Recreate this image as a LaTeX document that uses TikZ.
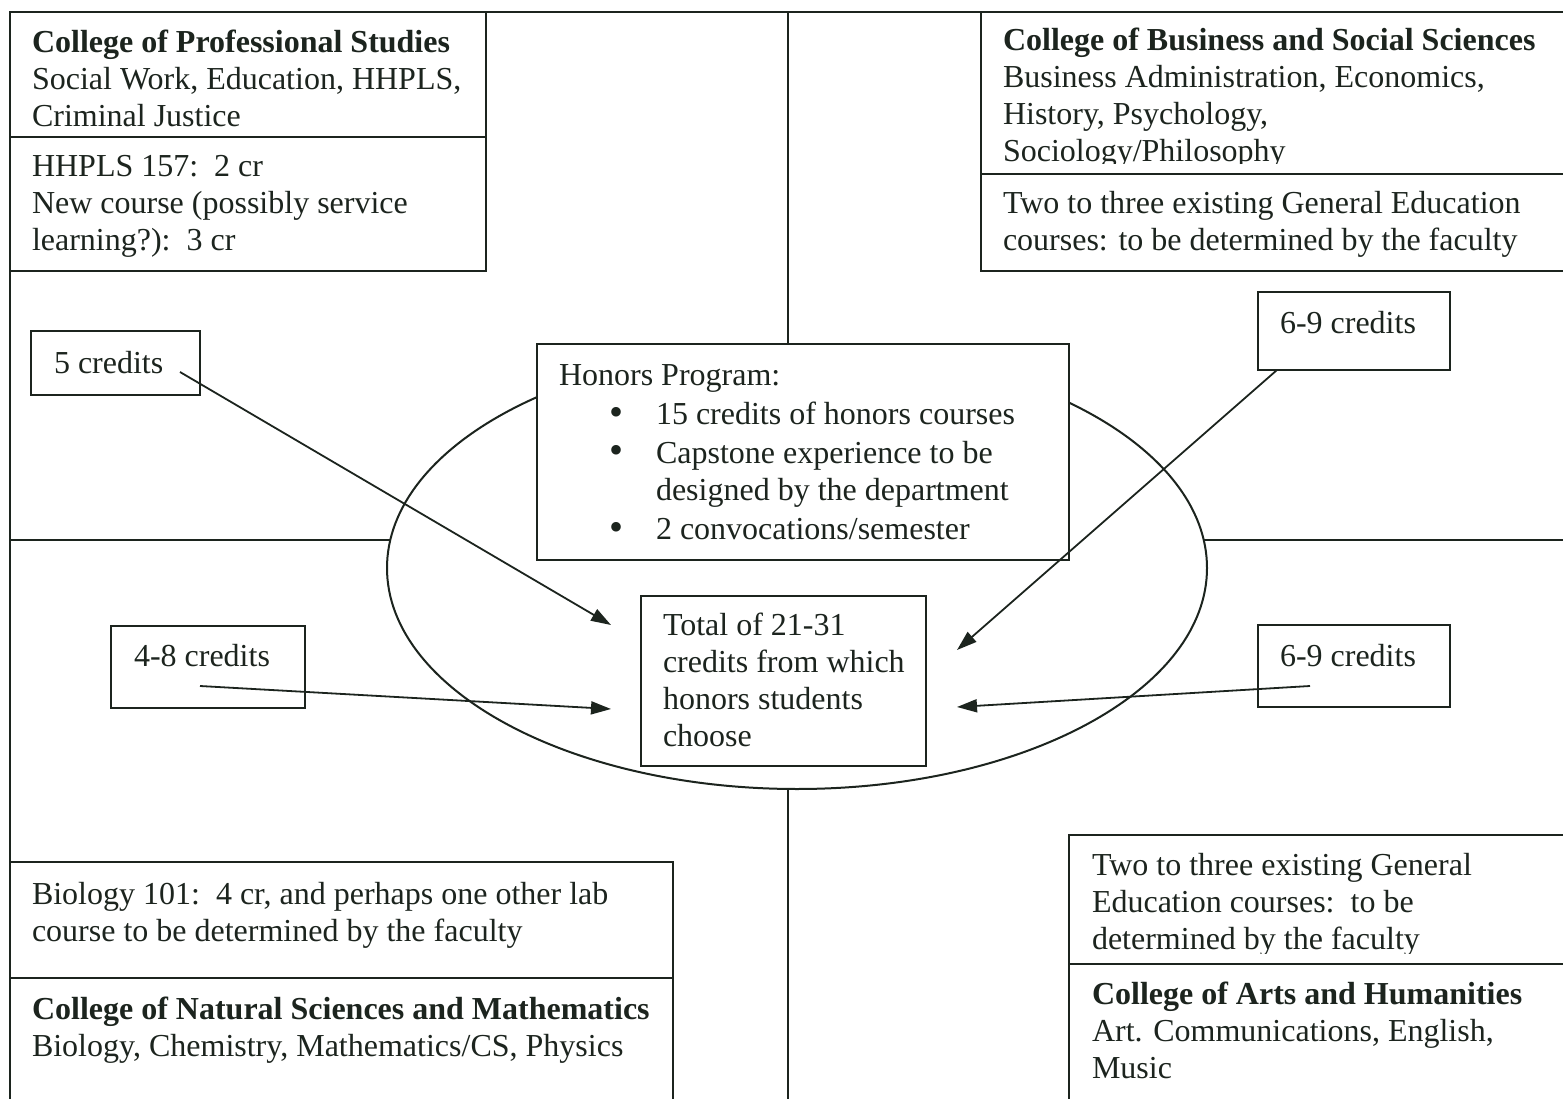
\documentclass[tikz,border=0pt]{standalone}
\usepackage{fontspec}
\setmainfont{Liberation Serif}
\usetikzlibrary{arrows.meta,shapes.geometric}
\definecolor{ink}{RGB}{28,36,30}
\begin{document}
\begin{tikzpicture}[x=1pt,y=-1pt,line width=2pt,color=ink,
  box/.style={draw,fill=white,anchor=north west,inner sep=0pt,outer sep=0pt},
  txt/.style={anchor=base west,align=left,inner sep=0pt,font=\fontsize{32}{37}\selectfont},
  bul/.style={anchor=base west,inner sep=0pt,font=\fontsize{40}{37}\selectfont},
  arr/.style={-{Triangle[length=20pt,width=13pt]},line width=1.8pt}]
\clip (0,0) rectangle (1563,1099);
% frame lines
\draw (10,1110) -- (10,12) -- (1570,12);
\draw (788,12) -- (788,1110);
\draw (10,540) -- (1570,540);
% ellipse
\node[draw,fill=white,ellipse,inner sep=0pt,minimum width=820pt,minimum height=442pt] (ell) at (797,568) {};
% college boxes
\node[box,minimum width=476pt,minimum height=259pt] (tl) at (10,12) {};
\draw (10,137) -- (486,137);
\node[box,minimum width=600pt,minimum height=259pt] (tr) at (981,12) {};
\draw (981,174) -- (1570,174);
\node[box,minimum width=663pt,minimum height=260pt] (bl) at (10,862) {};
\draw (10,978) -- (673,978);
\node[box,minimum width=520pt,minimum height=290pt] (br) at (1069,835) {};
\draw (1069,964) -- (1570,964);
% centre boxes
\node[box,minimum width=532pt,minimum height=216pt] (hon) at (537,344) {};
\node[box,minimum width=285pt,minimum height=170pt] (tot) at (641,596) {};
% credit boxes
\node[box,minimum width=169pt,minimum height=64pt] (c5) at (31,331) {};
\node[box,minimum width=192pt,minimum height=78pt] (c69a) at (1258,292) {};
\node[box,minimum width=194pt,minimum height=82pt] (c48) at (111,626) {};
\node[box,minimum width=192pt,minimum height=82pt] (c69b) at (1258,625) {};
% texts (anchor = baseline of the last line)
\node[txt] (tlA) at (31,127) {\textbf{College of Professional Studies}\\Social Work, Education, HHPLS,\\Criminal Justice};
\node[txt] (tlB) at (31,251) {HHPLS 157:~~2 cr\\New course (possibly service\\learning?):~~3 cr};
\begin{scope}
\clip (981,12) rectangle (1563,164);
\node[txt] (trA) at (1002,162) {\textbf{College of Business and Social Sciences}\\Business Administration, Economics,\\History, Psychology,\\Sociology/Philosophy};
\end{scope}
\node[txt] (trB) at (1002,251) {Two to three existing General Education\\courses: to be determined by the faculty};
\node[txt] (blA) at (31,941) {Biology 101:~~4 cr, and perhaps one other lab\\course to be determined by the faculty};
\node[txt] (blB) at (31,1056) {\textbf{College of Natural Sciences and Mathematics}\\Biology, Chemistry, Mathematics/CS, Physics};
\begin{scope}
\clip (1069,835) rectangle (1563,953);
\node[txt] (brA) at (1091,949) {Two to three existing General\\Education courses:~~to be\\determined by the faculty};
\end{scope}
\node[txt] (brB) at (1091,1078) {\textbf{College of Arts and Humanities}\\Art. Communications, English,\\Music};
\node[txt] (honT) at (558,385) {Honors Program:};
\node[bul] (hb1) at (608,425) {\textbullet};
\node[txt] (hl1) at (655,424) {15 credits of honors courses};
\node[bul] (hb2) at (608,463) {\textbullet};
\node[txt] (hl2) at (655,500) {Capstone experience to be\\designed by the department};
\node[bul] (hb3) at (608,540) {\textbullet};
\node[txt] (hl3) at (655,539) {2 convocations/semester};
\node[txt] (totT) at (662,746) {Total of 21-31\\credits from which\\honors students\\choose};
\node[txt] (t5) at (53,373) {5 credits};
\node[txt] (t69a) at (1279,334) {6-9 credits};
\node[txt] (t48) at (133,666) {4-8 credits};
\node[txt] (t69b) at (1279,666) {6-9 credits};
% arrows
\coordinate (s1) at (180,372); \coordinate (e1) at (611,625);
\coordinate (s2) at (1277,370); \coordinate (e2) at (957,650);
\coordinate (s3) at (200,686); \coordinate (e3) at (611,709);
\coordinate (s4) at (1310,686); \coordinate (e4) at (957,707);
\draw[arr] (s1) -- (e1);
\draw[arr] (s2) -- (e2);
\draw[arr] (s3) -- (e3);
\draw[arr] (s4) -- (e4);
\end{tikzpicture}
\end{document}
